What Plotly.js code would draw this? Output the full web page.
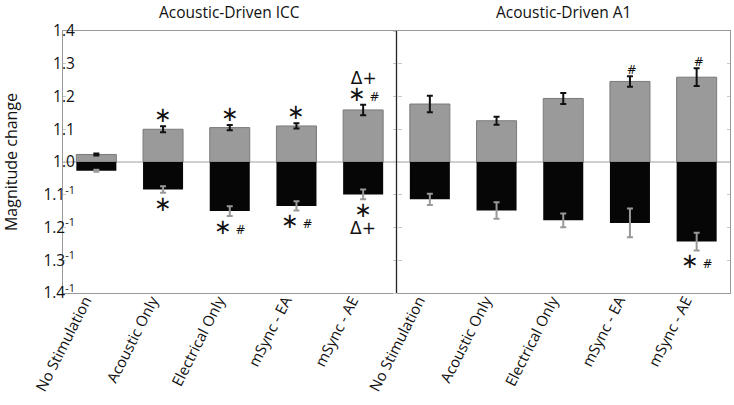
<!DOCTYPE html>
<html>
<head>
<meta charset="utf-8">
<script src="https://cdn.plot.ly/plotly-3.0.1.min.js"></script>
<style>html,body{margin:0;padding:0;background:#fff;}#chart{width:734px;height:405px;}</style>
</head>
<body>
<div id="chart"></div>
<script>
// ---- data ----
const categories = ['No Stimulation', 'Acoustic Only', 'Electrical Only', 'mSync - EA', 'mSync - AE'];
const regions = ['Acoustic-Driven ICC', 'Acoustic-Driven A1'];
// magnitude increases (upper bars) and decreases (lower bars, shown as m^-1)
const iccIncrease = [1.023, 1.100, 1.105, 1.110, 1.159];
const iccIncreaseErr = [0.003, 0.009, 0.008, 0.008, 0.016];
const iccDecrease = [1.027, 1.084, 1.150, 1.134, 1.099];
const iccDecreaseErr = [0.003, 0.010, 0.015, 0.014, 0.015];
const a1Increase = [1.177, 1.126, 1.194, 1.246, 1.259];
const a1IncreaseErr = [0.025, 0.012, 0.017, 0.016, 0.027];
const a1Decrease = [1.114, 1.148, 1.178, 1.186, 1.243];
const a1DecreaseErr = [0.017, 0.025, 0.021, 0.044, 0.027];
const iccIncreaseSig = ['', '*', '*', '*', 'Δ+|* #'];
const iccDecreaseSig = ['', '*', '* #', '* #', '*|Δ+'];
const a1IncreaseSig = ['', '', '', '#', '#'];
const a1DecreaseSig = ['', '', '', '', '* #'];
const yTickMagnitudes = [1.4, 1.3, 1.2, 1.1, 1.0, 1.1, 1.2, 1.3, 1.4];
const yTickInverse = [false, false, false, false, false, true, true, true, true];

// ---- derived ----
const xs = [];
const tickText = [];
for (let r = 0; r < regions.length; r++) categories.forEach((c, i) => { xs.push(r * categories.length + i); tickText.push(c); });
const upVals = iccIncrease.concat(a1Increase).map(m => m - 1);
const upErr = iccIncreaseErr.concat(a1IncreaseErr);
const downVals = iccDecrease.concat(a1Decrease).map(m => -(m - 1));
const downErr = iccDecreaseErr.concat(a1DecreaseErr);
const upSig = iccIncreaseSig.concat(a1IncreaseSig);
const downSig = iccDecreaseSig.concat(a1DecreaseSig);

const tickVals = yTickMagnitudes.map((m, i) => yTickInverse[i] ? -(m - 1) : (m - 1));
const tickLabels = yTickMagnitudes.map((m, i) => m.toFixed(1) + (yTickInverse[i] ? '<sup>-1</sup>' : ''));

function fmtSig(s) {
  return s.split('|').map(line => line.split(' ').map(tok => {
    if (tok === '*') return '<span style="font-size:21px">∗</span>';
    if (tok === '#') return '<span style="font-size:12px"> #</span>';
    if (tok === 'Δ+') return '<span style="font-size:17px">Δ+</span>';
    return tok;
  }).join('')).join('<br>');
}

const annotations = [];
regions.forEach((r, i) => {
  annotations.push({
    x: i * categories.length + (categories.length - 1) / 2, xref: 'x', y: 1, yref: 'paper',
    yanchor: 'bottom', yshift: 6, text: r, showarrow: false,
    font: {family: 'Open Sans', size: 15.5, color: '#111'}
  });
});
xs.forEach((x, i) => {
  if (upSig[i]) annotations.push({
    x: x, y: upVals[i] + upErr[i], xref: 'x', yref: 'y', yanchor: 'bottom', yshift: -3,
    text: fmtSig(upSig[i]), showarrow: false, font: {family: 'DejaVu Sans', size: 13, color: '#111'}
  });
  if (downSig[i]) annotations.push({
    x: x, y: downVals[i] - downErr[i], xref: 'x', yref: 'y', yanchor: 'top', yshift: 3,
    text: fmtSig(downSig[i]), showarrow: false, font: {family: 'DejaVu Sans', size: 13, color: '#111'}
  });
});

const traces = [
  {
    type: 'bar', x: xs, y: upVals, width: 0.6,
    marker: {color: '#9a9a9a', line: {color: '#7a7a7a', width: 1}},
    error_y: {type: 'data', array: upErr, visible: true, color: '#111', thickness: 2, width: 3},
    hoverinfo: 'skip', showlegend: false
  },
  {
    type: 'bar', x: xs, y: downVals, width: 0.6,
    marker: {color: '#060606', line: {width: 0}},
    error_y: {type: 'data', array: downErr, visible: true, color: '#999', thickness: 2, width: 3},
    hoverinfo: 'skip', showlegend: false
  },
  {type: 'scatter', x: [], y: [], yaxis: 'y2', showlegend: false, hoverinfo: 'skip'},
  {type: 'scatter', x: [], y: [], yaxis: 'y3', showlegend: false, hoverinfo: 'skip'}
];

const axisRange = [-0.4, 0.4];
const dividerX = categories.length - 0.5;
const layout = {
  width: 734, height: 405,
  margin: {l: 63, r: 4, t: 31, b: 112},
  paper_bgcolor: '#fff', plot_bgcolor: '#fff',
  barmode: 'overlay',
  showlegend: false,
  font: {family: 'Open Sans', color: '#111'},
  xaxis: {
    range: [-0.5, xs.length - 0.5], tickvals: xs, ticktext: tickText, tickangle: -63,
    showline: true, linecolor: '#999', linewidth: 1, mirror: true, ticks: '',
    ticklabelstandoff: -8, ticklabelshift: -11,
    showgrid: false, zeroline: false, tickfont: {family: 'Open Sans', size: 15, color: '#111'}
  },
  yaxis: {
    range: axisRange, tickvals: tickVals, ticktext: tickLabels,
    showline: true, linecolor: '#999', linewidth: 1, mirror: 'ticks',
    ticks: 'inside', ticklen: 3, tickcolor: '#c8c8c8',
    ticklabelstandoff: -16,
    showgrid: false, zeroline: true, zerolinecolor: '#cfcfcf', zerolinewidth: 2,
    tickfont: {family: 'Open Sans', size: 15.5, color: '#111'},
    title: {text: 'Magnitude change', font: {family: 'Open Sans', size: 16, color: '#111'}, standoff: 22}
  },
  yaxis2: {
    range: axisRange, tickvals: tickVals, overlaying: 'y', anchor: 'free', position: 0.5,
    showline: false, ticks: 'inside', ticklen: 4, tickcolor: '#c8c8c8',
    showticklabels: false, showgrid: false, zeroline: false
  },
  yaxis3: {
    range: axisRange, tickvals: tickVals, overlaying: 'y', anchor: 'free', position: 0.5,
    showline: false, ticks: 'outside', ticklen: 4, tickcolor: '#c8c8c8',
    showticklabels: false, showgrid: false, zeroline: false
  },
  shapes: [{
    type: 'line', xref: 'x', yref: 'paper', x0: dividerX, x1: dividerX, y0: 0, y1: 1,
    line: {color: '#222', width: 1.3}, layer: 'above'
  }],
  annotations: annotations
};

Plotly.newPlot('chart', traces, layout, {staticPlot: true, displayModeBar: false});
</script>
</body>
</html>
